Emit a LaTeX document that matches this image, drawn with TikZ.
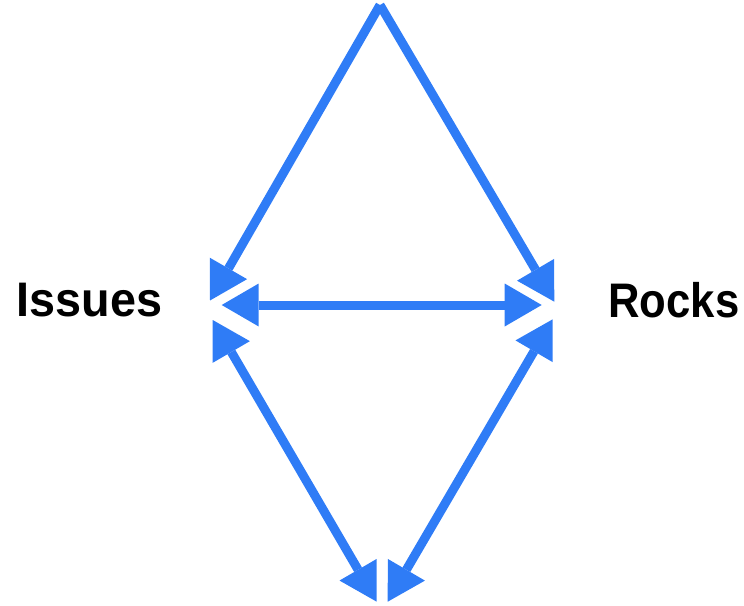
\documentclass[tikz,border=0pt]{standalone}
\usepackage{fontspec}
\setmainfont{Liberation Sans}
\usetikzlibrary{arrows.meta}
\definecolor{arrowblue}{RGB}{47,124,246}
\begin{document}
\begin{tikzpicture}[x=1pt,y=-1pt,
  pt/.style={inner sep=0pt,outer sep=0pt,minimum size=0pt},
  conn/.style={draw=arrowblue,line width=9pt,line cap=butt},
  tipa/.tip={Triangle[length=37pt,width=43pt,line width=0pt,color=arrowblue]},
  lbl/.style={font=\fontsize{48.5}{52}\selectfont\bfseries,text=black,inner sep=0pt}]
\useasboundingbox (0,0) rectangle (744,605);
% anchor points
\node[pt] (top) at (380,5) {};
\node[pt] (ul) at (210,300.5) {};
\node[pt] (hl) at (221.7,305) {};
\node[pt] (hr) at (541.7,305) {};
\node[pt] (ur) at (554.3,301.7) {};
\node[pt] (ll) at (212.7,320) {};
\node[pt] (lr) at (552.7,319.3) {};
\node[pt] (bl) at (376.7,601.7) {};
\node[pt] (br) at (387.7,601.7) {};
% labels
\node[lbl] (issues) at (89.5,300) {\scalebox{0.964}[1]{Issues}};
\node[lbl] (rocks) at (673.8,300) {\scalebox{0.90}[1]{Rocks}};
% connectors
\draw[conn,-tipa] (top.center) -- (ul.center);
\draw[conn,-tipa] (top.center) -- (ur.center);
\draw[conn,tipa-tipa] (hl.center) -- (hr.center);
\draw[conn,tipa-tipa] (ll.center) -- (bl.center);
\draw[conn,tipa-tipa] (lr.center) -- (br.center);
\end{tikzpicture}
\end{document}
